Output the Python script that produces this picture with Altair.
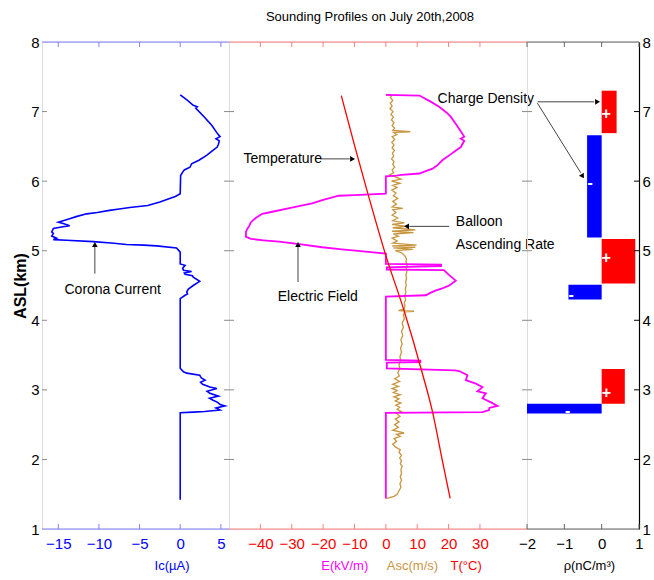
import altair as alt
import pandas as pd

FONT = "Liberation Sans, Arial, sans-serif"

# ---------------- data ----------------
Y_TICKS = [1, 2, 3, 4, 5, 6, 7, 8]
IC_TICKS = [-15, -10, -5, 0, 5]
E_TICKS = [-40, -30, -20, -10, 0, 10, 20, 30]
RHO_TICKS = [-2, -1, 0, 1]

ic_alt = [7.24, 7.16, 7.09, 7.07, 7.05, 6.93, 6.80, 6.68, 6.64, 6.61, 6.58, 6.53, 6.49, 6.43, 6.37,
          6.30, 6.25, 6.20, 6.16, 6.13, 6.08, 5.82, 5.78, 5.75, 5.70, 5.65, 5.62, 5.60, 5.58, 5.55,
          5.53, 5.49, 5.46, 5.41, 5.39, 5.36, 5.34, 5.32, 5.27, 5.25, 5.21, 5.18, 5.16, 5.15, 5.13,
          5.11, 5.09, 5.08, 5.07, 5.04, 4.98, 4.81, 4.79, 4.75, 4.72, 4.70, 4.68, 4.66, 4.64, 4.62,
          4.56, 4.50, 4.45, 4.41, 4.38, 4.36, 4.31, 3.31, 3.26, 3.24, 3.21, 3.17, 3.14, 3.11, 3.08,
          3.04, 3.02, 2.98, 2.95, 2.91, 2.88, 2.85, 2.82, 2.79, 2.77, 2.74, 2.71, 2.69, 2.68, 2.67, 1.42]
ic_val = [0.0, 0.9, 1.6, 2.1, 1.9, 2.9, 3.9, 4.6, 4.9, 4.4, 4.8, 4.7, 4.55, 3.9, 3.25,
          2.3, 1.4, 1.2, 0.5, 0.3, 0.05, 0.0, -0.6, -1.3, -2.5, -4.0, -6.2, -7.5, -8.7, -10.2,
          -11.5, -12.8, -13.6, -15.0, -14.4, -13.6, -14.6, -15.6, -15.8, -15.6, -15.8, -15.2, -15.6, -14.0, -10.7,
          -8.5, -6.6, -4.5, -2.9, -0.45, 0.0, 0.0, 0.6, 0.3, 0.4, 1.4, 0.5, 0.6, 1.5, 1.6,
          2.4, 1.6, 1.0, 0.8, 0.9, 0.6, 0.0, 0.0, 0.4, 0.8, 2.4, 2.6, 3.05, 2.5, 2.75,
          3.65, 4.5, 3.3, 3.65, 4.7, 3.6, 4.05, 4.6, 4.9, 5.5, 4.4, 4.9, 3.0, 1.6, 0.0, 0.0]

e_alt = [7.24, 7.23, 7.15, 7.07, 6.98, 6.92, 6.83, 6.75, 6.64, 6.61, 6.58, 6.49, 6.43, 6.37, 6.30,
         6.23, 6.18, 6.14, 6.11, 6.09, 6.08, 6.07, 5.82, 5.80, 5.79, 5.73, 5.68, 5.62, 5.56, 5.53,
         5.47, 5.41, 5.36, 5.32, 5.27, 5.20, 5.17, 5.15, 5.13, 5.09, 5.05, 5.02, 5.00, 4.96, 4.81,
         4.80, 4.78, 4.76, 4.73, 4.72, 4.65, 4.57, 4.50, 4.46, 4.43, 4.39, 4.36, 4.34, 3.43, 3.42,
         3.40, 3.39, 3.31, 3.28, 3.27, 3.21, 3.14, 3.09, 3.04, 2.98, 2.95, 2.88, 2.82, 2.77, 2.74,
         2.71, 2.68, 2.67, 1.44]
e_val = [0.0, 10.7, 14.0, 17.0, 19.5, 20.8, 22.2, 23.4, 25.0, 23.9, 25.0, 23.9, 22.0, 20.2, 18.0,
         16.5, 14.9, 12.5, 10.7, 5.0, 3.3, 0.0, 0.0, -10.0, -15.0, -20.0, -23.5, -30.0, -36.2, -39.4,
         -41.5, -43.0, -43.5, -44.1, -44.6, -44.6, -43.0, -39.0, -34.0, -27.0, -20.3, -14.0, -9.7, 0.0, 0.0,
         17.6, 17.6, 0.3, 0.3, 18.5, 20.2, 22.3, 20.2, 18.0, 16.0, 14.0, 12.8, 0.0, 0.0, 11.0,
         11.0, 0.3, 0.3, 22.0, 23.4, 26.0, 25.5, 28.7, 30.8, 29.2, 31.9, 30.8, 33.5, 35.6, 33.0,
         32.9, 30.8, 0.0, 0.0]

asc_alt = [7.24, 7.23, 7.20, 7.16, 7.12, 7.08, 7.04, 7.00, 6.96, 6.92, 6.88, 6.84, 6.80, 6.76, 6.73,
           6.71, 6.70, 6.67, 6.64, 6.60, 6.56, 6.52, 6.48, 6.44, 6.40, 6.36, 6.32, 6.28, 6.24, 6.20,
           6.16, 6.12, 6.09, 6.06, 6.03, 6.00, 5.97, 5.94, 5.91, 5.87, 5.83, 5.79, 5.75, 5.71, 5.67,
           5.63, 5.61, 5.59, 5.55, 5.51, 5.47, 5.43, 5.40, 5.38, 5.35, 5.33, 5.30, 5.28, 5.26, 5.24,
           5.21, 5.18, 5.14, 5.11, 5.08, 5.07, 5.05, 5.04, 5.02, 5.00, 4.97, 4.93, 4.88, 4.84, 4.80,
           4.75, 4.70, 4.65, 4.60, 4.55, 4.50, 4.45, 4.40, 4.35, 4.30, 4.25, 4.20, 4.16, 4.14, 4.13,
           4.12, 4.08, 4.02, 3.96, 3.90, 3.84, 3.78, 3.72, 3.66, 3.60, 3.54, 3.48, 3.42, 3.36, 3.30,
           3.25, 3.20, 3.16, 3.12, 3.08, 3.05, 3.02, 2.99, 2.96, 2.93, 2.90, 2.87, 2.84, 2.81, 2.78,
           2.75, 2.72, 2.69, 2.66, 2.62, 2.58, 2.54, 2.50, 2.46, 2.42, 2.38, 2.36, 2.33, 2.30, 2.26,
           2.22, 2.18, 2.14, 2.10, 2.06, 2.02, 1.98, 1.94, 1.90, 1.85, 1.80, 1.75, 1.70, 1.65, 1.60,
           1.55, 1.50, 1.47, 1.45, 1.44]
asc_val = [0.3, 1.8, 1.5, 2.2, 1.4, 2.0, 1.3, 2.3, 1.6, 2.4, 1.8, 2.6, 2.0, 2.8, 2.2,
           7.8, 2.5, 3.5, 2.0, 2.8, 1.9, 2.6, 2.0, 2.7, 2.1, 2.5, 1.8, 2.6, 2.2, 2.8,
           2.0, 2.5, 1.2, 3.0, 4.8, 1.8, 4.5, 2.2, 3.6, 1.9, 3.2, 2.4, 3.8, 2.2, 3.4,
           2.0, 5.4, 2.2, 3.2, 2.0, 3.8, 2.2, 5.9, 2.0, 6.5, 2.2, 9.4, 2.0, 8.8, 2.4,
           4.0, 2.0, 3.6, 2.2, 9.8, 2.0, 9.4, 2.4, 8.6, 3.0, 5.0, 6.0, 6.6, 6.4, 6.8,
           6.5, 6.7, 6.4, 6.6, 6.3, 6.5, 6.2, 6.4, 6.0, 6.3, 5.9, 6.1, 5.8, 4.0, 9.0,
           6.0, 5.6, 5.9, 5.2, 5.6, 5.0, 5.4, 4.8, 5.2, 4.7, 5.0, 4.5, 4.7, 4.2, 4.5,
           3.8, 4.3, 2.8, 4.4, 2.2, 4.0, 2.0, 3.6, 2.4, 4.6, 2.6, 4.2, 3.0, 4.8, 3.2,
           4.4, 3.6, 4.9, 3.4, 4.5, 3.0, 4.2, 2.8, 4.0, 2.2, 5.8, 3.4, 4.6, 2.6, 3.4,
           2.2, 3.0, 4.6, 4.2, 5.0, 4.4, 5.0, 4.6, 5.2, 4.8, 5.0, 4.6, 5.0, 4.5, 4.8,
           4.2, 3.6, 2.6, 1.2, 0.2]

t_alt = [7.23, 6.50, 5.80, 4.93, 4.14, 3.26, 2.68, 1.92, 1.44]
t_val = [-14.2, -9.9, -5.6, 0.0, 5.8, 11.5, 14.9, 18.3, 20.5]

bar_lo = [6.69, 5.19, 4.53, 4.30, 2.80, 2.66]
bar_hi = [7.30, 6.66, 5.17, 4.51, 3.30, 2.80]
bar_rho = [0.40, -0.39, 0.90, -0.89, 0.62, -2.10]

sign_rho = [0.12, -0.31, 0.12, -0.82, 0.13, -0.91]
sign_alt = [6.96, 5.97, 4.90, 4.37, 2.96, 2.70]
sign_txt = ["+", "-", "+", "-", "+", "-"]

# ---------------- sizes ----------------
W1, W2, W3, H = 187, 298, 112, 487
IC_DOM, E_DOM, RHO_DOM = [-17, 6], [-50, 45], [-2, 1]
GRAY = "#8c8c8c"


def xe(dom, axis):
    return alt.X("x:Q", scale=alt.Scale(domain=dom, nice=False, zero=False), axis=axis)


def ye(axis):
    return alt.Y("alt:Q", scale=alt.Scale(domain=[1, 8], nice=False, zero=False), axis=axis)


def line_df(alts, vals):
    return pd.DataFrame({"alt": alts, "x": vals, "i": list(range(len(alts)))})


def xaxis(values, color):
    return alt.Axis(values=values, labelColor=color, labelFontSize=15, labelFont=FONT,
                    ticks=False, domain=False, grid=False, title=None, labelPadding=7,
                    labelFlush=False, labelOverlap=False)


one = pd.DataFrame({"k": [0]})


def frame_layers(w, xdom, xticks, xax, yax, top_color, side_left, side_right):
    """Inward ticks and coloured top/bottom edges of a panel."""
    yt = pd.DataFrame({"alt": [2, 3, 4, 5, 6, 7]})
    xt = pd.DataFrame({"x": xticks})
    L = []
    L.append(alt.Chart(yt).mark_rule(color=side_left, strokeWidth=1).encode(
        y=ye(yax), x=alt.value(0), x2=alt.value(5)))
    L.append(alt.Chart(yt).mark_rule(color=side_right, strokeWidth=1).encode(
        y=ye(yax), x=alt.value(w - 5), x2=alt.value(w)))
    L.append(alt.Chart(xt).mark_rule(color=top_color, strokeWidth=1).encode(
        x=xe(xdom, xax), y=alt.value(0), y2=alt.value(5)))
    L.append(alt.Chart(xt).mark_rule(color=top_color, strokeWidth=1).encode(
        x=xe(xdom, xax), y=alt.value(H - 5), y2=alt.value(H)))
    L.append(alt.Chart(one).mark_rule(color=top_color, strokeWidth=1.2).encode(
        x=alt.value(0), x2=alt.value(w), y=alt.value(0)))
    L.append(alt.Chart(one).mark_rule(color=top_color, strokeWidth=1.2).encode(
        x=alt.value(0), x2=alt.value(w), y=alt.value(H)))
    return L


def bottom_title(xdom, xax, yax, xpos, text, color):
    d = pd.DataFrame({"x": [xpos], "alt": [1.0], "t": [text]})
    return alt.Chart(d).mark_text(font=FONT, fontSize=13, color=color, baseline="middle",
                                  align="center").encode(
        x=xe(xdom, xax), y=alt.value(H + 37), text="t:N")


def annot(xdom, xax, yax, xs, alts, texts, align):
    d = pd.DataFrame({"x": xs, "alt": alts, "t": texts})
    return alt.Chart(d).mark_text(font=FONT, fontSize=14, color="black", baseline="middle",
                                  align=align).encode(x=xe(xdom, xax), y=ye(yax), text="t:N")


def arrow(xdom, xax, yax, x1, a1, x2, a2):
    d = pd.DataFrame({"x": [x1], "alt": [a1], "x2": [x2], "alt2": [a2]})
    return alt.Chart(d).mark_rule(color="#444444", strokeWidth=1).encode(
        x=xe(xdom, xax), x2="x2:Q", y=ye(yax), y2="alt2:Q")


def head(xdom, xax, yax, x, a, shape, angle=0):
    d = pd.DataFrame({"x": [x], "alt": [a]})
    return alt.Chart(d).mark_point(shape=shape, filled=True, size=32, color="black", opacity=1,
                                   angle=angle).encode(x=xe(xdom, xax), y=ye(yax))


# ---------------- left panel: corona current ----------------
ax_ic = xaxis(IC_TICKS, "#0000ff")
ay_l = alt.Axis(values=Y_TICKS, orient="left", labelFontSize=15, labelFont=FONT, labelColor="black",
                ticks=False, domain=False, grid=False, title="ASL(km)", titleFont=FONT,
                titleFontSize=16, titleFontWeight="bold", titlePadding=2, labelPadding=3)

left_layers = [
    alt.Chart(line_df(ic_alt, ic_val)).mark_line(color="#0000ff", strokeWidth=1.6).encode(
        x=xe(IC_DOM, ax_ic), y=ye(ay_l), order="i:Q"),
]
left_layers += frame_layers(W1, IC_DOM, IC_TICKS, ax_ic, ay_l, "#8080ff", GRAY, GRAY)
left_layers += [
    arrow(IC_DOM, ax_ic, ay_l, -10.5, 4.67, -10.5, 5.07),
    head(IC_DOM, ax_ic, ay_l, -10.5, 5.09, "triangle-up"),
    annot(IC_DOM, ax_ic, ay_l, [-8.3], [4.44], ["Corona Current"], "center"),
    bottom_title(IC_DOM, ax_ic, ay_l, -1.0, "Ic(\u00b5A)", "#0000ff"),
]
left = alt.layer(*left_layers).properties(width=W1, height=H)

# ---------------- middle panel: E, Asc, T ----------------
ax_e = xaxis(E_TICKS, "#ff0000")
ay_m = None

mid_layers = [
    alt.Chart(line_df(asc_alt, asc_val)).mark_line(color="#c8953f", strokeWidth=1.3).encode(
        x=xe(E_DOM, ax_e), y=ye(ay_m), order="i:Q"),
    alt.Chart(line_df(e_alt, e_val)).mark_line(color="#ff00ff", strokeWidth=1.8).encode(
        x=xe(E_DOM, ax_e), y=ye(ay_m), order="i:Q"),
    alt.Chart(line_df(t_alt, t_val)).mark_line(color="#ff0000", strokeWidth=1.3,
                                              interpolate="monotone").encode(
        x=xe(E_DOM, ax_e), y=ye(ay_m), order="i:Q"),
]
mid_layers += frame_layers(W2, E_DOM, E_TICKS, ax_e, ay_m, "#ff8080", GRAY, GRAY)
mid_layers += [
    arrow(E_DOM, ax_e, ay_m, -21.0, 6.32, -11.5, 6.32),
    head(E_DOM, ax_e, ay_m, -10.6, 6.32, "triangle-right"),
    arrow(E_DOM, ax_e, ay_m, -28.0, 4.55, -28.0, 5.07),
    head(E_DOM, ax_e, ay_m, -28.0, 5.09, "triangle-up"),
    arrow(E_DOM, ax_e, ay_m, 20.2, 5.35, 7.5, 5.35),
    head(E_DOM, ax_e, ay_m, 6.6, 5.35, "triangle-left"),
    annot(E_DOM, ax_e, ay_m, [-45.4, 22.3, 22.3, 16.5], [6.32, 5.41, 5.08, 7.18],
          ["Temperature", "Balloon", "Ascending Rate", "Charge Density"], "left"),
    annot(E_DOM, ax_e, ay_m, [-21.7], [4.34], ["Electric Field"], "center"),
    bottom_title(E_DOM, ax_e, ay_m, -13.1, "E(kV/m)", "#ff00ff"),
    bottom_title(E_DOM, ax_e, ay_m, 8.5, "Asc(m/s)", "#c8953f"),
    bottom_title(E_DOM, ax_e, ay_m, 25.6, "T(\u00b0C)", "#ff0000"),
]
mid = alt.layer(*mid_layers).properties(
    width=W2, height=H,
    title=alt.TitleParams("Sounding Profiles on July 20th,2008", font=FONT, fontSize=13,
                          fontWeight="normal", color="black", offset=17, anchor="middle", dx=-8))

# ---------------- right panel: charge density ----------------
ax_r = alt.Axis(values=RHO_TICKS, labelColor="black", labelFontSize=15, labelFont=FONT,
                ticks=False, domain=False, grid=False, title=None, labelPadding=7,
                labelFlush=False, labelOverlap=False)
ay_r = alt.Axis(values=Y_TICKS, orient="right", labelFontSize=15, labelFont=FONT, labelColor="black",
                ticks=False, domain=True, domainColor="black", domainWidth=1.2, grid=False,
                title=None, labelPadding=3)

bars = pd.DataFrame({"alt": bar_lo, "alt2": bar_hi, "x": bar_rho, "x2": [0.0] * len(bar_rho),
                     "sign": ["pos" if v > 0 else "neg" for v in bar_rho]})
signs = pd.DataFrame({"x": sign_rho, "alt": sign_alt, "t": sign_txt})

right_layers = [
    alt.Chart(bars).mark_rect(clip=True).encode(
        x=xe(RHO_DOM, ax_r), x2="x2:Q", y=ye(ay_r), y2="alt2:Q",
        color=alt.Color("sign:N", scale=alt.Scale(domain=["pos", "neg"], range=["#ff0000", "#0000ff"]),
                        legend=None)),
    alt.Chart(signs).mark_text(font=FONT, fontSize=16, fontWeight="bold", color="white",
                               baseline="middle", align="center").encode(
        x=xe(RHO_DOM, ax_r), y=ye(ay_r), text="t:N"),
]
right_layers += frame_layers(W3, RHO_DOM, RHO_TICKS, ax_r, ay_r, "#666666", GRAY, "black")
right_layers += [
    arrow(RHO_DOM, ax_r, ay_r, -1.72, 7.14, -0.2, 7.14),
    head(RHO_DOM, ax_r, ay_r, -0.11, 7.14, "triangle-right"),
    arrow(RHO_DOM, ax_r, ay_r, -1.72, 7.12, -0.56, 6.12),
    head(RHO_DOM, ax_r, ay_r, -0.51, 6.07, "triangle-down", 329),
    bottom_title(RHO_DOM, ax_r, ay_r, -0.33, "\u03c1(nC/m\u00b3)", "black"),
]
right = alt.layer(*right_layers).properties(width=W3, height=H)

chart = alt.hconcat(left, mid, right, spacing=0, bounds="flush").properties(
    padding={"left": 12, "top": 10, "right": 0, "bottom": 2}
).configure_view(stroke=GRAY, strokeWidth=1).configure(background="white")

chart.save("out.html", embed_options={"renderer": "svg", "actions": False})
